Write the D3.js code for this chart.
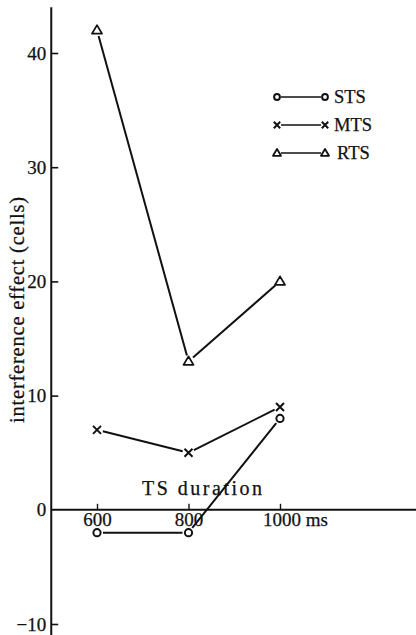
<!DOCTYPE html>
<html>
<head>
<meta charset="utf-8">
<script src="https://cdn.jsdelivr.net/npm/d3@7"></script>
<style>
  html, body { margin: 0; padding: 0; background: #fff; }
  svg { display: block; }
  text { font-family: "Liberation Serif", "DejaVu Serif", serif; fill: #111; stroke: #111; stroke-width: 0.25px; }
</style>
</head>
<body>
<svg id="chart" width="416" height="635"></svg>
<script>
// ---- data ----
const durations = [600, 800, 1000];
const stsValues = [-2, -2, 8];
const mtsValues = [7, 5, 9];
const rtsValues = [42, 13, 20];
const seriesNames = ["STS", "MTS", "RTS"];
const yTicks = [-10, 0, 10, 20, 30, 40];
const yTickLabels = ["\u221210", "0", "10", "20", "30", "40"];
const xTickLabels = ["600", "800", "1000"];
const xUnit = "ms";
const xTitle = "TS duration";
const yTitle = "interference effect (cells)";
const xAxisExtent = [500, 1300];
const yAxisExtent = [-11.1, 44];

// ---- layout ----
const svg = d3.select("#chart");
const x = d3.scaleLinear().domain([600, 1000]).range([97, 280]);
const y = d3.scaleLinear().domain([-10, 40]).range([624, 53]);
const ink = "#111";

// axes lines
svg.append("line")
  .attr("x1", x(xAxisExtent[0])).attr("x2", x(xAxisExtent[1]))
  .attr("y1", y(0)).attr("y2", y(0))
  .attr("stroke", ink).attr("stroke-width", 2);
svg.append("line")
  .attr("x1", x(xAxisExtent[0])).attr("x2", x(xAxisExtent[0]))
  .attr("y1", y(yAxisExtent[1])).attr("y2", y(yAxisExtent[0]))
  .attr("stroke", ink).attr("stroke-width", 2);

// y axis ticks (ticks to right, labels left)
const yAxis = d3.axisLeft(y)
  .tickValues(yTicks)
  .tickSizeInner(-7).tickSizeOuter(0)
  .tickPadding(5)
  .tickFormat((d, i) => yTickLabels[i]);
const gy = svg.append("g")
  .attr("transform", `translate(${x(xAxisExtent[0])},0)`)
  .call(yAxis);
gy.select(".domain").remove();
gy.selectAll(".tick line").attr("stroke", ink).attr("stroke-width", 1.6);
gy.selectAll(".tick").filter(d => d === 0).select("line").remove();
gy.selectAll(".tick text")
  .attr("font-size", 19)
  .attr("fill", ink);

// x axis ticks (ticks up, labels below)
const xAxis = d3.axisBottom(x)
  .tickValues(durations)
  .tickSizeInner(-6).tickSizeOuter(0)
  .tickPadding(5)
  .tickFormat((d, i) => xTickLabels[i]);
const gx = svg.append("g")
  .attr("transform", `translate(0,${y(0)})`)
  .call(xAxis);
gx.select(".domain").remove();
gx.selectAll(".tick line").attr("stroke", ink).attr("stroke-width", 1.4);
gx.selectAll(".tick text")
  .attr("font-size", 19)
  .attr("fill", ink)
  .attr("dy", "0.6em");
// unit after last label
gx.selectAll(".tick").filter(d => d === 1000).select("text")
  .attr("text-anchor", "start")
  .attr("dx", "-0.92em")
  .text(xTickLabels[2] + " " + xUnit);

// titles
svg.append("text")
  .attr("x", 142).attr("y", y(0) - 15)
  .attr("font-size", 20)
  .attr("textLength", 120).attr("lengthAdjust", "spacing")
  .text(xTitle);
svg.append("text")
  .attr("transform", `translate(24,${310}) rotate(-90)`)
  .attr("text-anchor", "middle")
  .attr("font-size", 20.5)
  .attr("textLength", 226).attr("lengthAdjust", "spacing")
  .text(yTitle);

// ---- markers ----
function drawMarker(g, type, cx, cy, scale) {
  const k = scale || 1;
  if (type === "STS") {
    g.append("circle").attr("cx", cx).attr("cy", cy).attr("r", 3.6 * k)
      .attr("fill", "#fff").attr("stroke", ink).attr("stroke-width", 2);
  } else if (type === "MTS") {
    const s = 4 * k;
    g.append("path")
      .attr("d", `M${cx - s},${cy - s}L${cx + s},${cy + s}M${cx - s},${cy + s}L${cx + s},${cy - s}`)
      .attr("stroke", ink).attr("stroke-width", 2).attr("fill", "none");
  } else {
    const s = 5 * k;
    g.append("path")
      .attr("d", `M${cx},${cy - s}L${cx + s},${cy + s * 0.7}L${cx - s},${cy + s * 0.7}Z`)
      .attr("stroke", ink).attr("stroke-width", 1.8).attr("fill", "#fff").attr("stroke-linejoin", "round");
  }
}

function drawGapSegment(g, x1, y1, x2, y2, gap) {
  const dx = x2 - x1, dy = y2 - y1, L = Math.hypot(dx, dy);
  const ux = dx / L, uy = dy / L;
  g.append("line")
    .attr("x1", x1 + ux * gap).attr("y1", y1 + uy * gap)
    .attr("x2", x2 - ux * gap).attr("y2", y2 - uy * gap)
    .attr("stroke", ink).attr("stroke-width", 2);
}

const seriesData = [stsValues, mtsValues, rtsValues];
const plot = svg.append("g");
seriesData.forEach((vals, si) => {
  const pts = durations.map((d, i) => [x(d), y(vals[i])]);
  for (let i = 0; i < pts.length - 1; i++) {
    drawGapSegment(plot, pts[i][0], pts[i][1], pts[i + 1][0], pts[i + 1][1], 6);
  }
  pts.forEach(p => drawMarker(plot, seriesNames[si], p[0], p[1]));
});

// ---- legend ----
const legend = svg.append("g");
const legendRows = [97, 125, 153];
seriesNames.forEach((name, i) => {
  const ly = legendRows[i];
  drawMarker(legend, name, 277, ly, 0.8);
  drawMarker(legend, name, 325, ly, 0.8);
  legend.append("line").attr("x1", 281).attr("x2", 321)
    .attr("y1", ly).attr("y2", ly).attr("stroke", ink).attr("stroke-width", 1.6);
  legend.append("text").attr("x", name === "RTS" ? 337 : 334).attr("y", ly + 6)
    .attr("font-size", 18.5).text(name);
});
</script>
</body>
</html>
